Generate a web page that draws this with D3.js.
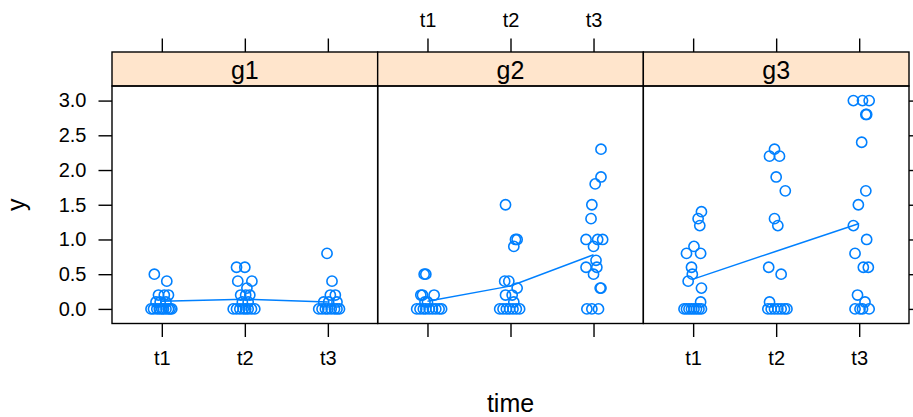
<!DOCTYPE html>
<html>
<head>
<meta charset="utf-8">
<script src="https://cdn.jsdelivr.net/npm/d3@7"></script>
<style>
  body { margin: 0; background: #fff; }
  svg { font-family: "Liberation Sans", Arial, sans-serif; }
</style>
</head>
<body>
<svg id="chart" width="913" height="417"></svg>
<script>
const groups = ['g1', 'g2', 'g3'];
const times = ['t1', 't2', 't3'];
const yTicks = [0, 0.5, 1, 1.5, 2, 2.5, 3];

// [time index, y, horizontal jitter in x units]
const g1Points = [
  [1, 0.5, -0.09], [1, 0.4, 0.06],
  [1, 0.2, -0.04], [1, 0.2, 0.03], [1, 0.2, 0.08],
  [1, 0.1, -0.07], [1, 0.1, -0.02], [1, 0.1, 0.05],
  [1, 0, -0.13], [1, 0, -0.1], [1, 0, -0.06], [1, 0, -0.03], [1, 0, 0],
  [1, 0, 0.02], [1, 0, 0.05], [1, 0, 0.08], [1, 0, 0.1], [1, 0, 0.12],
  [2, 0.6, -0.1], [2, 0.6, 0], [2, 0.4, -0.085], [2, 0.4, 0.085], [2, 0.3, 0.025],
  [2, 0.2, -0.05], [2, 0.2, 0.01], [2, 0.2, 0.06],
  [2, 0.1, -0.03], [2, 0.1, 0.04],
  [2, 0, -0.14], [2, 0, -0.1], [2, 0, -0.06], [2, 0, -0.02], [2, 0, 0.01],
  [2, 0, 0.04], [2, 0, 0.08], [2, 0, 0.12],
  [3, 0.8, -0.01], [3, 0.4, 0.05], [3, 0.2, 0.03], [3, 0.2, 0.09],
  [3, 0.1, 0.01], [3, 0.1, 0.11], [3, 0.1, -0.05],
  [3, 0, -0.11], [3, 0, -0.07], [3, 0, -0.03], [3, 0, 0], [3, 0, 0.04],
  [3, 0, 0.08], [3, 0, 0.11], [3, 0, 0.14]
];

const g2Points = [
  [1, 0.5, -0.04], [1, 0.5, -0.02],
  [1, 0.2, -0.08], [1, 0.2, -0.06], [1, 0.2, 0.08],
  [1, 0.1, 0], [1, 0.1, -0.03],
  [1, 0, -0.13], [1, 0, -0.09], [1, 0, -0.05], [1, 0, -0.02], [1, 0, 0.02],
  [1, 0, 0.06], [1, 0, 0.1], [1, 0, 0.14], [1, 0, 0.17],
  [2, 1.5, -0.06], [2, 1.0, 0.06], [2, 1.0, 0.08], [2, 0.9, 0.04],
  [2, 0.4, -0.07], [2, 0.4, -0.02], [2, 0.3, 0.08],
  [2, 0.2, -0.06], [2, 0.2, 0.02], [2, 0.1, 0.04],
  [2, 0, -0.13], [2, 0, -0.09], [2, 0, -0.05], [2, 0, -0.01], [2, 0, 0.03],
  [2, 0, 0.07], [2, 0, 0.11],
  [3, 2.3, 0.09], [3, 1.9, 0.09], [3, 1.8, 0.02], [3, 1.5, -0.02], [3, 1.3, -0.03],
  [3, 1.0, -0.09], [3, 1.0, 0.05], [3, 1.0, 0.11], [3, 0.9, 0], [3, 0.7, 0.03],
  [3, 0.6, -0.09], [3, 0.6, 0.04], [3, 0.5, 0], [3, 0.3, 0.08], [3, 0.3, 0.09],
  [3, 0, -0.08], [3, 0, -0.02], [3, 0, 0.06]
];

const g3Points = [
  [1, 1.4, 0.1], [1, 1.3, 0.06], [1, 1.2, 0.08], [1, 0.9, 0.01],
  [1, 0.8, -0.08], [1, 0.8, 0.09], [1, 0.6, -0.02], [1, 0.5, -0.01],
  [1, 0.4, -0.06], [1, 0.3, 0.1], [1, 0.1, 0.09],
  [1, 0, -0.11], [1, 0, -0.08], [1, 0, -0.05], [1, 0, -0.02], [1, 0, 0.01],
  [1, 0, 0.04], [1, 0, 0.07], [1, 0, 0.1],
  [2, 2.3, -0.02], [2, 2.2, -0.08], [2, 2.2, 0.04], [2, 1.9, 0], [2, 1.7, 0.11],
  [2, 1.3, -0.02], [2, 1.2, 0.02], [2, 0.6, -0.09], [2, 0.5, 0.06], [2, 0.1, -0.08],
  [2, 0, -0.1], [2, 0, -0.06], [2, 0, -0.02], [2, 0, 0.02], [2, 0, 0.06],
  [2, 0, 0.1], [2, 0, 0.13],
  [3, 3.0, -0.07], [3, 3.0, 0.04], [3, 3.0, 0.12], [3, 2.8, 0.08], [3, 2.8, 0.09],
  [3, 2.4, 0.03], [3, 1.7, 0.08], [3, 1.5, -0.01], [3, 1.2, -0.07], [3, 1.0, 0.09],
  [3, 0.8, -0.05], [3, 0.6, 0.05], [3, 0.6, 0.11], [3, 0.2, -0.02], [3, 0.1, 0.07],
  [3, 0, -0.05], [3, 0, 0.04], [3, 0, 0.12], [3, 0, 0.01]
];

// group means per time (the "a" line)
const g1Means = [0.11, 0.14, 0.10];
const g2Means = [0.11, 0.33, 0.78];
const g3Means = [0.43, 0.83, 1.23];

const panels = [
  { name: 'g1', points: g1Points, means: g1Means },
  { name: 'g2', points: g2Points, means: g2Means },
  { name: 'g3', points: g3Points, means: g3Means }
];

const svg = d3.select('#chart');
const blue = '#0080ff';
const font = '"Liberation Sans", Arial, sans-serif';

const left = 112, right = 909;
const panelTop = 86, panelBottom = 323.5, stripTop = 52;
const panelW = (right - left) / groups.length;
const tck = 13.5;

const y = d3.scaleLinear().domain([-0.21, 3.21]).range([panelBottom, panelTop]);

function styleAxis(a) {
  a.select('.domain').remove();
  a.selectAll('line').attr('stroke', '#000').attr('stroke-width', 1.4);
  a.selectAll('text').attr('font-size', 20).attr('fill', '#000').attr('font-family', font);
}

panels.forEach((p, i) => {
  const x0 = left + i * panelW;
  const x = d3.scaleLinear().domain([0.4, 3.6]).range([x0, x0 + panelW]);
  const g = svg.append('g').attr('class', 'panel');

  // strip
  g.append('rect')
    .attr('x', x0).attr('y', stripTop)
    .attr('width', panelW).attr('height', panelTop - stripTop)
    .attr('fill', '#ffe5cc');
  g.append('text')
    .attr('x', x0 + panelW / 2).attr('y', stripTop + 27)
    .attr('text-anchor', 'middle')
    .attr('font-size', 25)
    .text(p.name);

  // average line
  g.append('path')
    .datum(p.means)
    .attr('fill', 'none')
    .attr('stroke', blue)
    .attr('stroke-width', 1.4)
    .attr('d', d3.line().x((d, k) => x(k + 1)).y(d => y(d)));

  // jittered points
  g.selectAll('circle')
    .data(p.points)
    .join('circle')
      .attr('cx', d => x(d[0] + d[2]))
      .attr('cy', d => y(d[1]))
      .attr('r', 5.1)
      .attr('fill', 'none')
      .attr('stroke', blue)
      .attr('stroke-width', 1.6);

  // bottom axis: ticks everywhere, labels on panels 1 and 3
  const ba = g.append('g').attr('transform', `translate(0,${panelBottom})`)
    .call(d3.axisBottom(x).tickValues([1, 2, 3]).tickSize(tck).tickPadding(14)
      .tickFormat(d => (i % 2 === 0 ? times[d - 1] : '')));

  // top axis: ticks everywhere, labels on panel 2
  const ta = g.append('g').attr('transform', `translate(0,${stripTop})`)
    .call(d3.axisTop(x).tickValues([1, 2, 3]).tickSize(tck).tickPadding(11.5)
      .tickFormat(d => (i % 2 === 1 ? times[d - 1] : '')));

  styleAxis(ba);
  styleAxis(ta);

  // borders
  g.append('rect')
    .attr('x', x0).attr('y', stripTop)
    .attr('width', panelW).attr('height', panelTop - stripTop)
    .attr('fill', 'none').attr('stroke', '#000').attr('stroke-width', 1.4);
  g.append('rect')
    .attr('x', x0).attr('y', panelTop)
    .attr('width', panelW).attr('height', panelBottom - panelTop)
    .attr('fill', 'none').attr('stroke', '#000').attr('stroke-width', 1.4);
});

// left axis with labels
const la = svg.append('g').attr('transform', `translate(${left},0)`)
  .call(d3.axisLeft(y).tickValues(yTicks).tickSize(tck).tickPadding(12)
    .tickFormat(d3.format('.1f')));
// right axis, ticks only
const ra = svg.append('g').attr('transform', `translate(${right},0)`)
  .call(d3.axisRight(y).tickValues(yTicks).tickSize(tck).tickFormat(''));
styleAxis(la);
styleAxis(ra);

// axis titles
svg.append('text')
  .attr('x', (left + right) / 2).attr('y', 412)
  .attr('text-anchor', 'middle')
  .attr('font-size', 25)
  .text('time');
svg.append('text')
  .attr('transform', `translate(25,${(panelTop + panelBottom) / 2}) rotate(-90)`)
  .attr('text-anchor', 'middle')
  .attr('font-size', 25)
  .text('y');
</script>
</body>
</html>
